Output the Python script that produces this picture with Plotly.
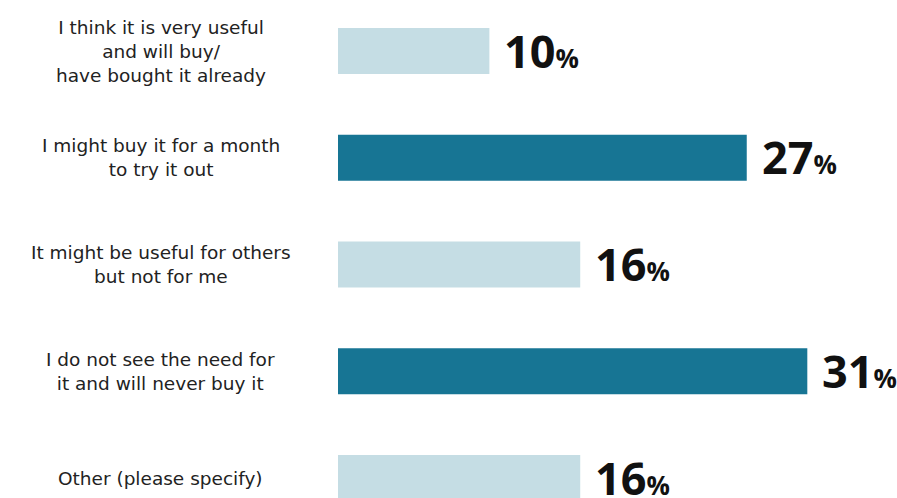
import plotly.graph_objects as go

# Survey answers, top to bottom
categories = [
    "I think it is very useful<br>and will buy/<br>have bought it already",
    "I might buy it for a month<br>to try it out",
    "It might be useful for others<br>but not for me",
    "I do not see the need for<br>it and will never buy it",
    "Other (please specify)",
]
percentages = [10, 27, 16, 31, 16]
bar_colors = ["#c5dde4", "#177594", "#c5dde4", "#177594", "#c5dde4"]

positions = list(range(len(categories)))

fig = go.Figure(
    go.Bar(
        x=percentages,
        y=positions,
        orientation="h",
        marker=dict(color=bar_colors, line=dict(width=0)),
        width=0.43,
        hoverinfo="skip",
    )
)

annotations = []
for pos, cat, val in zip(positions, categories, percentages):
    # answer text, centred in the left margin
    annotations.append(dict(
        x=-0.325, xref="paper", y=pos, yref="y",
        text=cat, showarrow=False, xanchor="center", yanchor="middle",
        align="center",
        font=dict(family="DejaVu Sans", size=18.5, color="#222222"),
    ))
    # value label next to the bar end
    annotations.append(dict(
        x=val, xref="x", y=pos, yref="y",
        text=f"<b>{val}</b><b><span style='font-size:26px'>%</span></b>",
        showarrow=False, xanchor="left", yanchor="middle",
        xshift=13, yshift=1,
        font=dict(family="Open Sans", size=45, color="#111111"),
    ))

fig.update_layout(
    width=897, height=498,
    margin=dict(l=338, r=14, t=0, b=0),
    paper_bgcolor="white", plot_bgcolor="white",
    showlegend=False,
    xaxis=dict(range=[0, 36], visible=False, fixedrange=True),
    yaxis=dict(range=[4.187, -0.478], visible=False, fixedrange=True),
    annotations=annotations,
)

fig.write_html("out.html")
